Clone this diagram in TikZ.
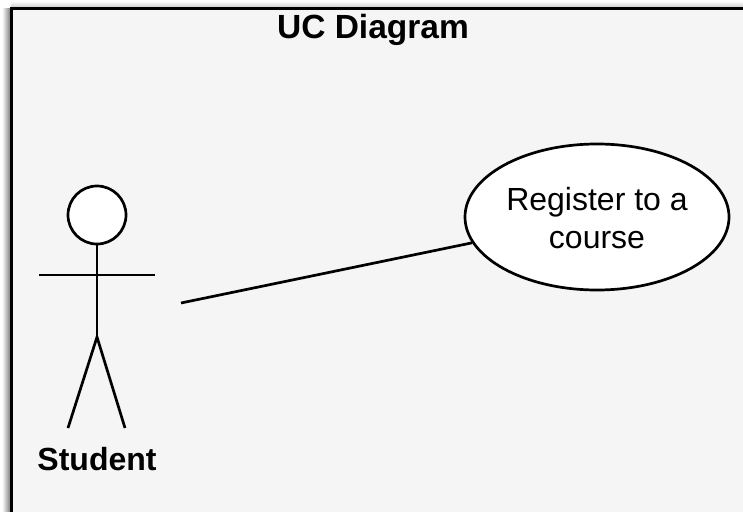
\documentclass[tikz,border=0pt]{standalone}
\usepackage{fontspec}
\setmainfont{Liberation Sans}
\usetikzlibrary{shapes.geometric}
\tikzset{
  line/.style={draw=black,line width=2.7pt},
  boldtext/.style={font=\fontsize{32}{38}\selectfont\bfseries,text=black,inner sep=0pt,align=center},
  titletext/.style={font=\fontsize{33.5}{38}\selectfont\bfseries,text=black,inner sep=0pt,align=center},
  usecase/.style={ellipse,line,fill=white,minimum width=264pt,minimum height=146pt,inner sep=0pt,align=center,font=\fontsize{32}{38}\selectfont},
  head/.style={circle,line,fill=white,minimum size=58pt,inner sep=0pt},
}
\definecolor{panel}{HTML}{F5F5F5}
\begin{document}
\begin{tikzpicture}[x=1pt,y=-1pt]
\useasboundingbox (0,0) rectangle (743,511);
% page and soft shadow
\fill[white] (0,0) rectangle (743,511);
\fill[left color=white,right color=black!55] (2,9) rectangle (11,511);
\fill[top color=white,bottom color=black!22] (11,1) rectangle (743,8);
% frame
\draw[line,line width=3pt,fill=panel] (11,8.5) rectangle (760,530);
\node[titletext] (title) at (373,30) {UC Diagram};
% actor
\node[head] (actorhead) at (97,215) {};
\coordinate (hip) at (97,337);
\coordinate (handl) at (39,275);
\coordinate (handr) at (155,275);
\coordinate (footl) at (68,428);
\coordinate (footr) at (125,428);
\draw[line] (actorhead) -- (hip);
\draw[line] (handl) -- (handr);
\draw[line] (footl) -- (hip) -- (footr);
\node[boldtext] (student) at (97,459) {Student};
% use case
\node[usecase] (uc) at (597,217) {};
\node[font=\fontsize{32}{38}\selectfont,inner sep=0pt,align=center] (uclabel) at (597,218) {Register to a\\course};
\coordinate (linkstart) at (181,303);
\draw[line] (linkstart) -- (uc);
\end{tikzpicture}
\end{document}
